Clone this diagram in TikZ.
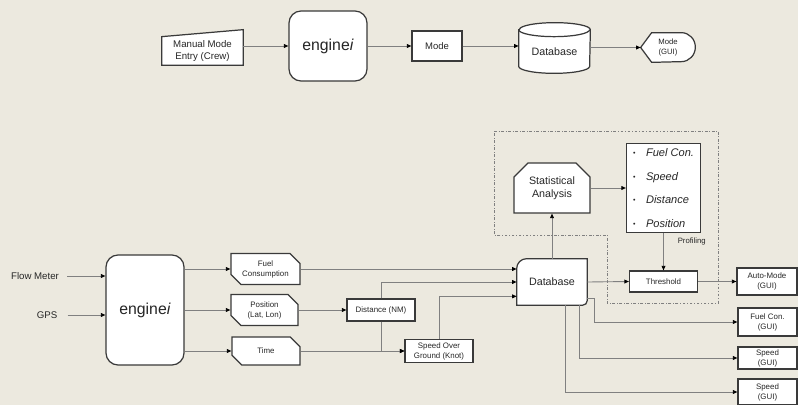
\documentclass[tikz,border=0pt]{standalone}
\usepackage{fontspec}
\setmainfont{Liberation Sans}
\usepackage{xcolor}
\usetikzlibrary{positioning,shapes.misc,arrows.meta,backgrounds}

\definecolor{bgbeige}{HTML}{ECE9DF}
\definecolor{linegray}{HTML}{808080}
\definecolor{boxdark}{HTML}{3A3A3A}
\newcommand\proitem[1]{\makebox[0.26cm][l]{\raisebox{0.5pt}{\fontsize{4}{4}\selectfont\textbullet}}\textit{#1}}

\begin{document}
\begin{tikzpicture}[
  x=0.02cm, y=0.02cm,
  every node/.style={
    font=\fontsize{4.5}{5.7}\selectfont,
    text=black!85,
    align=center
  },
  box/.style={rectangle, draw=boxdark, line width=0.7pt, fill=white, inner sep=1pt},
  cutbox/.style={
    box,
    chamfered rectangle,
    chamfered rectangle corners={north east,south west},
    chamfered rectangle xsep=0.1cm,
    chamfered rectangle ysep=0.1cm
  },
  engine/.style={box, rounded corners=0.24cm, minimum width=1.56cm, font=\fontsize{9}{10}\selectfont},
  bare/.style={inner sep=0pt},
  outline/.style={draw=boxdark, line width=0.7pt, fill=white},
  arrow/.style={draw=linegray, line width=0.5pt, -{Triangle[length=2.6pt,width=2.2pt,color=black]}},
  zone/.style={draw=gray, line width=0.4pt, dash pattern=on 1.6pt off 1pt on 0.4pt off 1pt}
]
  \useasboundingbox (0,0) rectangle (798,-405);

  \node[bare, minimum width=1.62cm, minimum height=0.56cm, font=\fontsize{5.5}{6.8}\selectfont] (manual) at (202.5,-51) {Manual Mode\\Entry (Crew)};
  \node[engine, minimum height=1.4cm] (eng1) at (328,-46) {engine\textit{i}};
  \node[box, minimum width=1cm, minimum height=0.6cm, font=\fontsize{5.4}{6.5}\selectfont] (mode) at (437,-46) {Mode};
  \node[bare, minimum width=1.42cm, minimum height=0.86cm, font=\fontsize{6.1}{7.3}\selectfont] (db1) at (554.5,-51.5) {Database};
  \node[bare, minimum width=1.08cm, minimum height=0.58cm, font=\fontsize{4.4}{5.5}\selectfont] (modegui) at (668,-47.5) {Mode\\(GUI)};

  \node[font=\fontsize{5.5}{6.6}\selectfont, inner sep=0.16cm] (flow) at (35,-276) {Flow Meter};
  \node[font=\fontsize{5.5}{6.6}\selectfont, inner sep=0.2cm] (gps) at (47,-315) {GPS};
  \node[engine, minimum height=2.2cm] (eng2) at (145,-310) {engine\textit{i}};

  \node[cutbox, minimum width=1.38cm, minimum height=0.56cm] (fuel) at (265.5,-269) {Fuel\\Consumption};
  \node[cutbox, minimum width=1.34cm, minimum height=0.56cm] (pos) at (264.5,-310) {Position\\(Lat, Lon)};
  \node[cutbox, minimum width=1.36cm, minimum height=0.56cm] (time) at (266,-351) {Time};
  \node[box, minimum width=1.36cm, minimum height=0.44cm] (dist) at (381,-310) {Distance (NM)};
  \node[box, minimum width=1.36cm, minimum height=0.46cm] (sog) at (439,-351) {Speed Over\\Ground (Knot)};

  \node[bare, minimum width=1.4cm, minimum height=0.92cm, font=\fontsize{6.1}{7.3}\selectfont] (db2) at (552,-282) {Database};
  \node[box, chamfered rectangle, chamfered rectangle corners={north west,north east},
        chamfered rectangle xsep=0.14cm, chamfered rectangle ysep=0.14cm,
        minimum width=1.52cm, minimum height=1cm, font=\fontsize{6.1}{7.6}\selectfont] (stat) at (552,-188) {Statistical\\Analysis};
  \node[box, minimum width=1.48cm, minimum height=1.78cm, align=left, font=\fontsize{6.3}{13.4}\selectfont] (list) at (663.5,-188)
    {\proitem{Fuel Con.}\\\proitem{Speed}\\\proitem{Distance}\\\proitem{Position}};
  \node[box, minimum width=1.36cm, minimum height=0.42cm] (thr) at (663.5,-281.5) {Threshold};

  \node[box, minimum width=1.2cm, minimum height=0.54cm] (auto) at (767,-281.5) {Auto-Mode\\(GUI)};
  \node[box, minimum width=1.18cm, minimum height=0.56cm] (fcg) at (767.5,-322) {Fuel Con.\\(GUI)};
  \node[box, minimum width=1.18cm, minimum height=0.44cm] (sg1) at (767.5,-358) {Speed\\(GUI)};
  \node[box, minimum width=1.18cm, minimum height=0.52cm] (sg2) at (767.5,-392) {Speed\\(GUI)};

  \begin{scope}[on background layer]
    \fill[bgbeige] (0,0) rectangle (798,-405);
    \draw[zone] (494,-131) -- (718,-131) -- (718,-303) -- (607,-303) -- (607,-235) -- (494,-235) -- cycle;
    \draw[outline] (manual.south west) -- (manual.north west) -- ([yshift=0.14cm]manual.north east) -- (manual.south east) -- cycle;
    \draw[outline] (db1.north west) -- ([yshift=0.14cm]db1.south west)
      arc[start angle=180, end angle=360, x radius=0.71cm, y radius=0.14cm]
      -- (db1.north east) arc[start angle=0, end angle=180, x radius=0.71cm, y radius=0.14cm] -- cycle;
    \draw[outline, fill=none] (db1.north west) arc[start angle=180, end angle=360, x radius=0.71cm, y radius=0.14cm];
    \draw[outline] (modegui.west) -- ([xshift=0.22cm]modegui.north west) -- ([xshift=-0.28cm]modegui.north east)
      arc[start angle=90, end angle=-90, x radius=0.28cm, y radius=0.29cm] -- ([xshift=0.22cm]modegui.south west) -- cycle;
    \draw[outline] (db2.south west) -- ([yshift=-0.2cm]db2.north west) arc[start angle=180, end angle=90, radius=0.2cm]
      -- (db2.north east) -- ([yshift=0.1cm]db2.south east) arc[start angle=0, end angle=-90, radius=0.1cm] -- cycle;
  \end{scope}

  \draw[arrow] (manual.east |- eng1) -- (eng1.west);
  \draw[arrow] (eng1.east) -- (mode.west);
  \draw[arrow] (mode.east) -- (mode.east -| db1.west);
  \draw[arrow] (db1.east |- modegui.west) -- (modegui.west);

  \draw[arrow] (flow.east) -- (flow.east -| eng2.west);
  \draw[arrow] (gps.east) -- (gps.east -| eng2.west);
  \draw[arrow] (eng2.east |- fuel.west) -- (fuel.west);
  \draw[arrow] (eng2.east |- pos.west) -- (pos.west);
  \draw[arrow] (eng2.east |- time.west) -- (time.west);

  \draw[arrow] (fuel.east) -- (fuel.east -| db2.west);
  \draw[arrow] (pos.east) -- (dist.west);
  \draw[arrow] (dist.north) |- (db2.west);
  \draw[arrow] (dist.south) |- (sog.west);
  \draw[arrow] (time.east) -- (sog.west);
  \draw[arrow] (sog.north) |- ([yshift=0.18cm]db2.south west);

  \draw[arrow] (db2.north) -- (stat.south);
  \draw[arrow] (stat.east) -- (list.west);
  \draw[arrow] (list.south) -- (thr.north)
    node[pos=0.23, anchor=west, xshift=0.16cm, font=\fontsize{4.4}{5}\selectfont] (prof) {Profiling};
  \draw[arrow] (db2.east) -- (thr.west);
  \draw[arrow] (thr.east) -- (auto.west);
  \draw[arrow] ([yshift=0.14cm]db2.south east) -- ++(7,0) |- (fcg.west);
  \draw[arrow] ([xshift=-0.16cm]db2.south east) |- (sg1.west);
  \draw[arrow] ([xshift=-0.44cm]db2.south east) |- (sg2.west);

\end{tikzpicture}
\end{document}
